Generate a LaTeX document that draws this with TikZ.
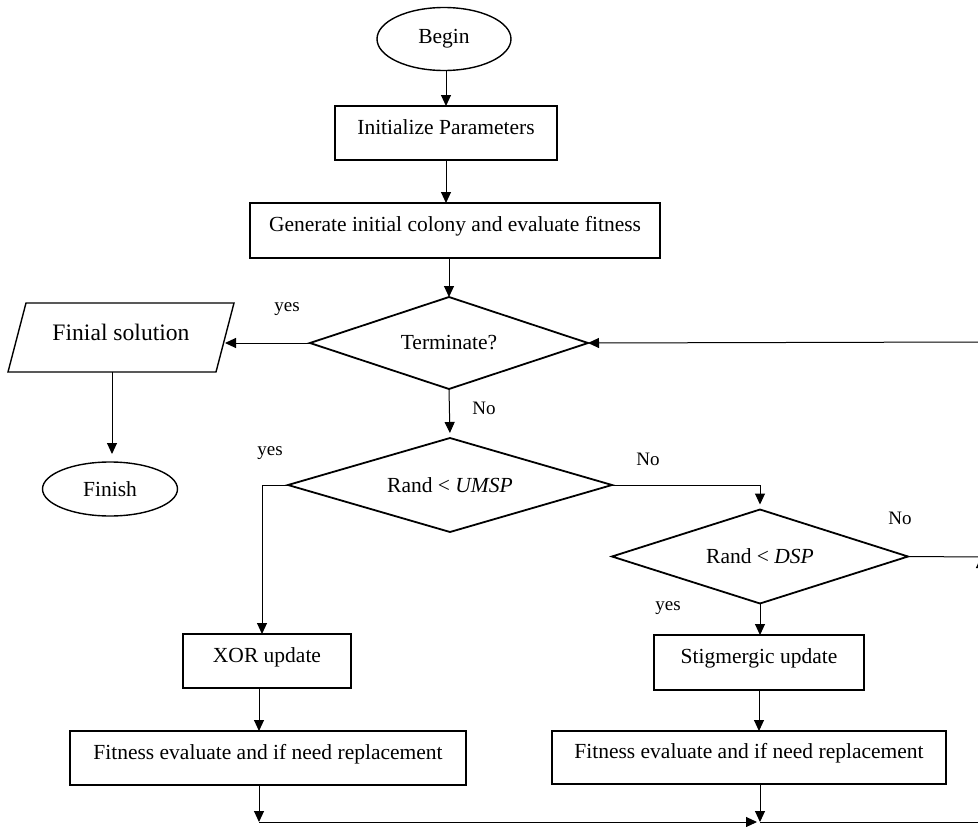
\documentclass[tikz,border=0pt]{standalone}
\usepackage{fontspec}
\setmainfont{Liberation Serif}
\usetikzlibrary{shapes.geometric,arrows.meta}
\begin{document}
\begin{tikzpicture}[x=1pt,y=-1pt,
  every node/.style={inner sep=0pt, outer sep=0pt},
  boxtxt/.style={font=\fontsize{21.5}{24}\selectfont},
  procbox/.style={draw, line width=1.8pt, rectangle, boxtxt, text height=15pt, text depth=13pt},
  decision/.style={draw, line width=1.8pt, diamond, aspect=3, boxtxt},
  terminal/.style={draw, line width=1.4pt, ellipse, boxtxt},
  iotext/.style={rectangle, font=\fontsize{23.6}{26}\selectfont, text height=17pt, text depth=12pt},
  ioline/.style={line width=1.4pt, line join=miter},
  lbl/.style={font=\fontsize{19}{21}\selectfont},
  conn/.style={line width=1pt, -{Triangle[length=11pt,width=10pt]}},
  plainline/.style={line width=1pt},
]
\useasboundingbox (0,0) rectangle (978,827);
\clip (0,0) rectangle (978,827);

% nodes
\node[terminal, minimum width=134pt, minimum height=63pt] (begin) at (444,39) {Begin};
\node[procbox, minimum width=222pt, minimum height=54pt] (init) at (446,133) {Initialize Parameters};
\node[procbox, minimum width=410pt, minimum height=55pt] (gen) at (455,230.5) {Generate initial colony and evaluate fitness};
\node[decision, minimum width=278pt, minimum height=92pt] (term) at (449,343) {Terminate?};
\node[iotext, minimum width=208pt, minimum height=69pt] (final) at (121,337.5) {Finial solution};
\draw[ioline] ([xshift=-9pt]final.south west) -- ([xshift=9pt]final.north west)
  -- ([xshift=9pt]final.north east) -- ([xshift=-9pt]final.south east) -- cycle;
\node[terminal, minimum width=135pt, minimum height=54pt] (finish) at (110,489) {Finish};
\node[decision, minimum width=324pt, minimum height=94pt] (umsp) at (450,485) {Rand < \textit{UMSP}};
\node[decision, minimum width=296pt, minimum height=94pt] (dsp) at (760,556.5) {Rand < \textit{DSP}};
\node[procbox, minimum width=168pt, minimum height=54pt] (xor) at (267,661) {XOR update};
\node[procbox, minimum width=210pt, minimum height=55pt] (stig) at (759,662.5) {Stigmergic update};
\node[procbox, minimum width=396pt, minimum height=54pt] (fit1) at (268,758) {Fitness evaluate and if need replacement};
\node[procbox, minimum width=394pt, minimum height=53pt] (fit2) at (749,757.5) {Fitness evaluate and if need replacement};

% labels
\node[lbl] (l1) at (287,309) {yes};
\node[lbl] (l2) at (484,408) {No};
\node[lbl] (l3) at (270,453) {yes};
\node[lbl] (l4) at (648,459) {No};
\node[lbl] (l5) at (900,518) {No};
\node[lbl] (l6) at (668,608) {yes};

% junction coordinates
\coordinate (j1) at (259,822);
\coordinate (j2) at (760,822);
\coordinate (rb) at (981,822);
\coordinate (rm) at (981,557);
\coordinate (rt) at (981,342);

% connectors
\draw[conn] (init.north |- begin.south) -- (init.north);
\draw[conn] (init.south) -- (init.south |- gen.north);
\draw[conn] (term.north |- gen.south) -- (term.north);
\draw[conn] (term.west) -- (term.west -| final.east);
\draw[conn, shorten >=8pt] ([xshift=-9pt]final.south) -- ([xshift=-9pt]final.south |- finish.north);
\draw[conn, shorten >=5pt] (term.south) -- (umsp.north);
\draw[conn] (umsp.west) -| ([xshift=-5pt]xor.north);
\draw[conn, shorten >=5pt] (umsp.east) -| (dsp.north);
\draw[plainline] (dsp.east) -- (rm);
\draw[conn] (dsp.south) -- (dsp.south |- stig.north);
\draw[conn] (j1 |- xor.south) -- (j1 |- fit1.north);
\draw[conn] (stig.south) -- (stig.south |- fit2.north);
\draw[conn] (j1 |- fit1.south) -- (j1);
\draw[conn] (j2 |- fit2.south) -- (j2);
\draw[conn] (j1) -- ([xshift=-3pt]j2);
\draw[plainline] (j2) -- (rb);
\draw[conn] (rb) -- (rm);
\draw[conn] (rm) -- (rt) -- (term.east);
\end{tikzpicture}
\end{document}
